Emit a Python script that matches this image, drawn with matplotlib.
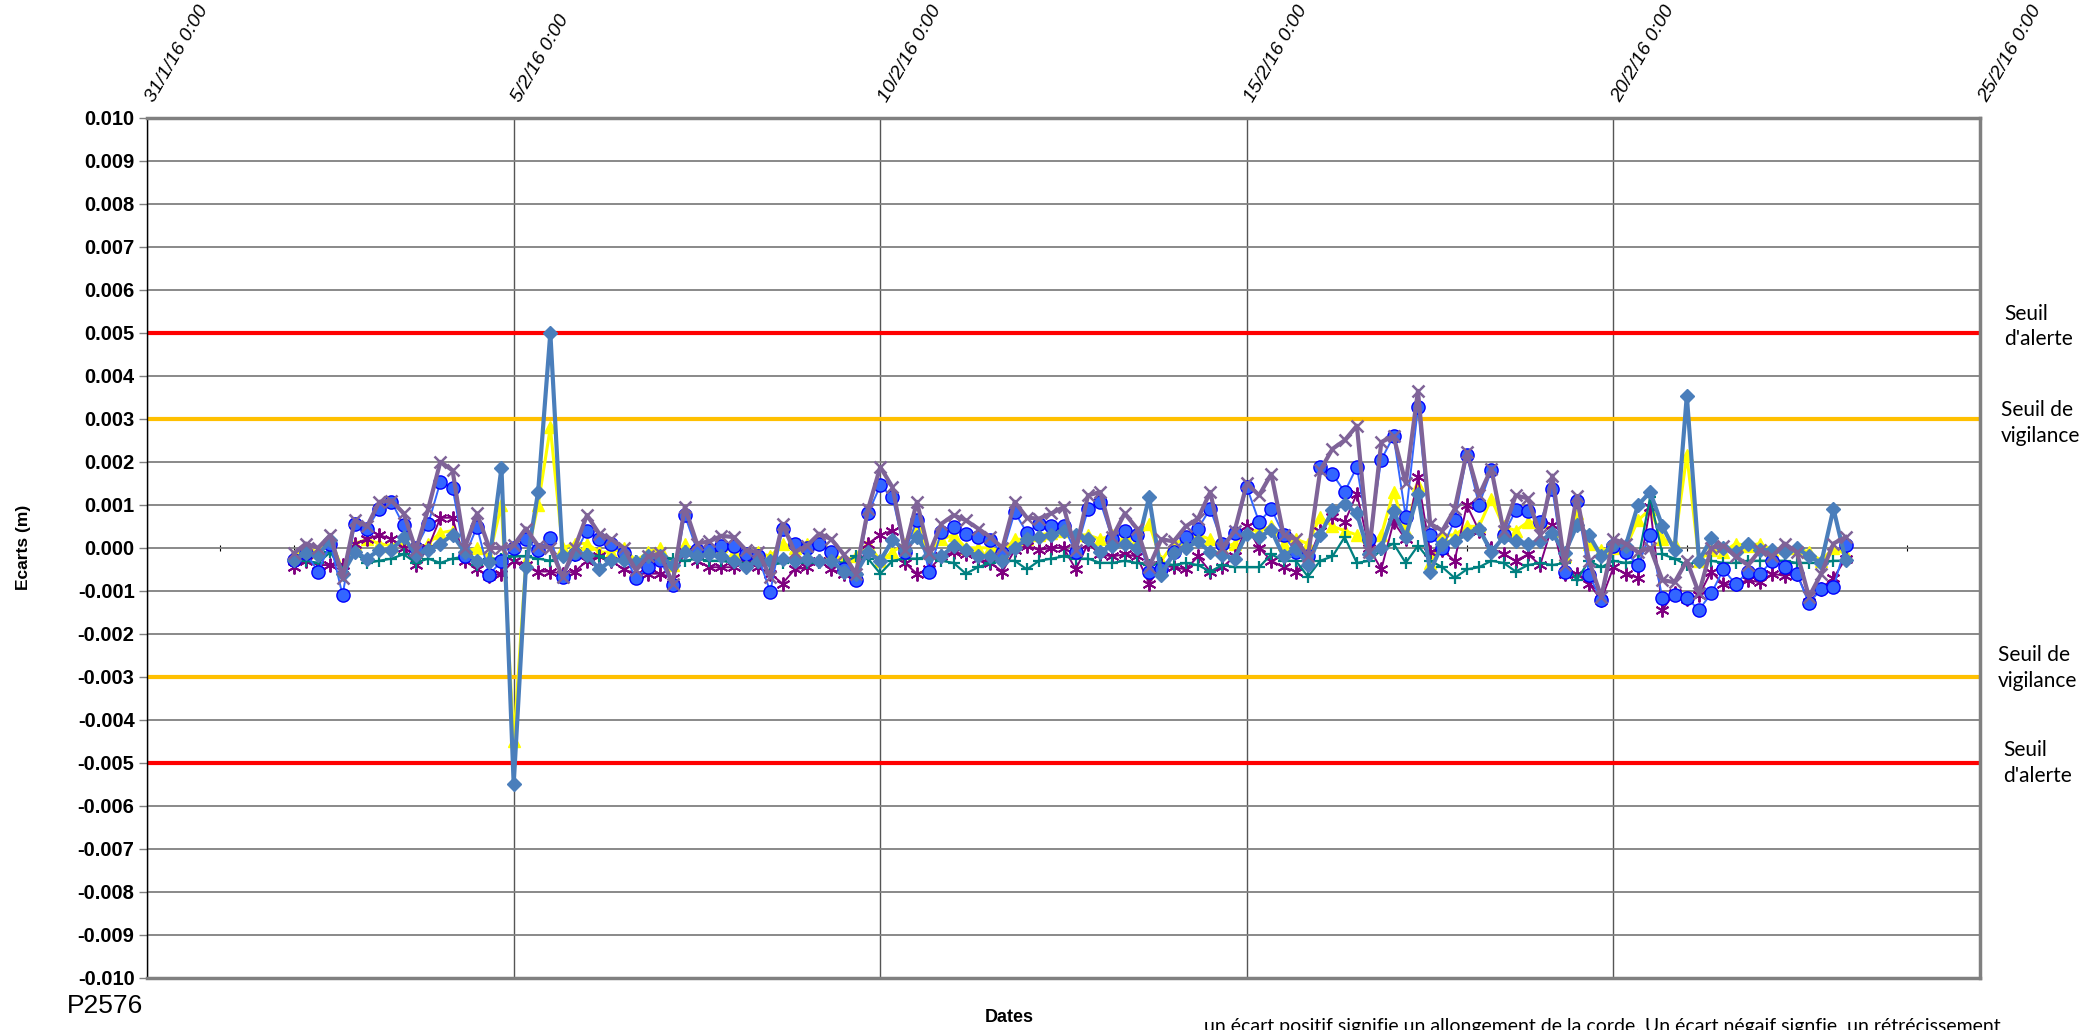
import numpy as np
import pandas as pd
import matplotlib
matplotlib.use('Agg')
import matplotlib.pyplot as plt
from matplotlib.ticker import MultipleLocator, FormatStrFormatter
from matplotlib.transforms import blended_transform_factory, ScaledTranslation

plt.rcParams['font.family'] = ['Liberation Sans', 'DejaVu Sans']

# mesures toutes les 4 h, du 2/2/16 0:00 au 23/2/16 4:00
dates = pd.date_range('2016-02-02 00:00', periods=128, freq='4h')

# écarts en mm (une ligne = une journée)
serie_losange = [
    -0.29, -0.13, -0.17, 0.18, -0.6, -0.1,
    -0.25, -0.05, -0.05, 0.25, -0.17, -0.05,
    0.1, 0.3, -0.1, -0.3, -0.33, 1.86,
    -5.5, -0.45, 1.3, 5.0, -0.2, -0.1,
    -0.17, -0.5, -0.29, -0.29, -0.33, -0.2,
    -0.2, -0.4, -0.1, -0.2, -0.15, -0.2,
    -0.3, -0.45, -0.3, -0.3, -0.25, -0.3,
    -0.25, -0.3, -0.3, -0.55, -0.6, -0.1,
    -0.3, 0.18, -0.05, 0.25, -0.2, -0.2,
    0.05, -0.05, -0.2, -0.2, -0.3, 0.0,
    0.2, 0.25, 0.3, 0.4, 0.3, 0.2,
    -0.1, 0.05, 0.1, 0.0, 1.18, -0.63,
    -0.13, 0.0, 0.15, -0.1, -0.17, -0.25,
    0.33, 0.25, 0.41, -0.2, 0.0, -0.4,
    0.3, 0.87, 1.03, 0.8, -0.15, 0.0,
    0.85, 0.25, 1.26, -0.55, 0.1, 0.15,
    0.33, 0.45, -0.1, 0.25, 0.15, 0.1,
    0.15, 0.35, -0.13, 0.52, 0.3, -0.2,
    0.1, 0.05, 0.99, 1.3, 0.5, -0.05,
    3.54, -0.3, 0.22, 0.0, -0.1, 0.1,
    -0.05, -0.05, -0.1, 0.0, -0.2, -0.35,
    0.91, -0.29]

serie_rond = [
    -0.29, -0.13, -0.55, 0.1, -1.1, 0.55,
    0.45, 0.9, 1.07, 0.52, 0.0, 0.55,
    1.53, 1.4, -0.2, 0.49, -0.63, -0.3,
    0.0, 0.2, -0.05, 0.22, -0.67, -0.15,
    0.4, 0.2, 0.1, -0.13, -0.7, -0.45,
    -0.29, -0.87, 0.76, -0.05, -0.05, 0.05,
    0.05, -0.15, -0.2, -1.02, 0.45, 0.1,
    0.0, 0.1, -0.1, -0.5, -0.75, 0.8,
    1.45, 1.18, -0.1, 0.64, -0.55, 0.37,
    0.49, 0.32, 0.25, 0.19, -0.13, 0.83,
    0.35, 0.56, 0.5, 0.5, -0.1, 0.9,
    1.07, 0.2, 0.4, 0.3, -0.55, -0.5,
    -0.1, 0.25, 0.45, 0.91, 0.1, 0.35,
    1.41, 0.6, 0.91, 0.3, -0.1, -0.2,
    1.88, 1.72, 1.3, 1.88, 0.2, 2.05,
    2.6, 0.72, 3.27, 0.3, 0.0, 0.64,
    2.15, 1.0, 1.8, 0.3, 0.87, 0.85,
    0.6, 1.37, -0.55, 1.1, -0.63, -1.21,
    0.05, -0.1, -0.4, 0.29, -1.17, -1.1,
    -1.17, -1.44, -1.06, -0.5, -0.85, -0.55,
    -0.6, -0.3, -0.45, -0.6, -1.29, -0.95,
    -0.92, 0.06]

serie_triangle = [
    -0.2, 0.0, -0.1, 0.2, -0.5, 0.1,
    0.2, 0.1, 0.05, 0.2, -0.1, 0.1,
    0.35, 0.4, -0.1, 0.0, -0.2, 1.0,
    -4.5, -0.3, 1.0, 2.8, 0.0, 0.1,
    0.1, -0.1, -0.1, 0.0, -0.3, -0.1,
    0.0, -0.4, 0.1, -0.1, 0.0, 0.05,
    -0.1, -0.3, -0.1, -0.2, 0.1, 0.0,
    0.1, 0.2, -0.1, -0.3, -0.2, 0.1,
    -0.3, -0.1, 0.1, 0.5, -0.1, 0.2,
    0.3, 0.0, 0.0, 0.0, -0.1, 0.2,
    0.2, 0.3, 0.35, 0.4, 0.3, 0.3,
    0.2, 0.3, 0.3, 0.2, 0.56, -0.3,
    0.1, 0.2, 0.3, 0.2, 0.0, 0.1,
    0.4, 0.4, 0.5, 0.1, 0.2, 0.1,
    0.72, 0.5, 0.4, 0.3, 0.0, 0.3,
    1.3, 0.4, 1.45, -0.36, 0.3, 0.3,
    0.5, 0.5, 1.14, 0.5, 0.4, 0.6,
    0.6, 0.4, -0.2, 0.8, 0.1, -0.05,
    0.0, 0.0, 0.64, 0.9, 0.2, 0.1,
    2.15, -0.3, -0.05, -0.1, 0.1, 0.05,
    0.1, -0.05, 0.0, 0.0, -0.1, -0.3,
    0.0, -0.15]

serie_etoile = [
    -0.45, -0.3, -0.4, -0.4, -0.4, 0.1,
    0.2, 0.3, 0.2, 0.0, -0.4, 0.0,
    0.7, 0.7, -0.3, -0.5, -0.65, -0.6,
    -0.3, -0.4, -0.55, -0.55, -0.6, -0.55,
    -0.3, -0.2, -0.3, -0.5, -0.6, -0.6,
    -0.6, -0.7, -0.1, -0.3, -0.45, -0.45,
    -0.45, -0.35, -0.45, -0.6, -0.83, -0.5,
    -0.45, -0.3, -0.5, -0.6, -0.65, 0.1,
    0.3, 0.4, -0.35, -0.6, -0.5, -0.2,
    -0.1, -0.15, -0.25, -0.35, -0.55, -0.05,
    0.05, -0.05, 0.0, 0.0, -0.5, 0.1,
    -0.15, -0.2, -0.15, -0.2, -0.83, -0.4,
    -0.45, -0.5, -0.2, -0.55, -0.45, -0.2,
    0.5, 0.0, -0.3, -0.45, -0.55, -0.3,
    0.4, 0.72, 0.6, 1.26, 0.0, -0.5,
    0.6, 0.2, 1.64, -0.1, -0.05, -0.3,
    0.99, 0.4, 0.0, -0.15, -0.3, -0.15,
    -0.4, 0.53, -0.6, -0.6, -0.83, -1.21,
    -0.45, -0.6, -0.7, 0.95, -1.44, -1.05,
    -1.2, -1.1, -0.55, -0.85, -0.85, -0.75,
    -0.8, -0.6, -0.65, -0.6, -1.25, -0.95,
    -0.7, -0.25]

serie_plus = [
    -0.3, -0.3, -0.35, -0.1, -0.55, -0.1,
    -0.35, -0.3, -0.25, -0.15, -0.35, -0.25,
    -0.35, -0.25, -0.2, -0.4, -0.25, -0.25,
    -0.2, -0.2, -0.25, -0.3, -0.2, -0.2,
    -0.15, -0.2, -0.3, -0.25, -0.3, -0.25,
    -0.2, -0.25, -0.3, -0.25, -0.3, -0.3,
    -0.35, -0.35, -0.35, -0.4, -0.35, -0.3,
    -0.35, -0.35, -0.3, -0.35, -0.2, -0.25,
    -0.6, -0.3, -0.25, -0.25, -0.2, -0.3,
    -0.35, -0.6, -0.45, -0.35, -0.3, -0.3,
    -0.5, -0.3, -0.25, -0.2, -0.25, -0.25,
    -0.35, -0.35, -0.3, -0.35, -0.4, -0.35,
    -0.4, -0.35, -0.4, -0.55, -0.4, -0.45,
    -0.45, -0.45, -0.15, -0.3, -0.3, -0.67,
    -0.3, -0.2, 0.25, -0.35, -0.3, -0.05,
    0.1, -0.35, 0.05, -0.3, -0.45, -0.7,
    -0.5, -0.45, -0.3, -0.35, -0.55, -0.4,
    -0.35, -0.4, -0.35, -0.75, -0.3, -0.45,
    -0.3, -0.35, -0.3, 1.18, -0.15, -0.25,
    -0.4, -0.3, -0.3, -0.35, -0.35, -0.3,
    -0.3, -0.3, -0.3, -0.35, -0.35, -0.35,
    -0.3, -0.3]

serie_croix = [
    -0.13, 0.1, 0.0, 0.3, -0.7, 0.64,
    0.5, 1.07, 1.1, 0.8, -0.05, 0.9,
    2.0, 1.8, 0.0, 0.8, 0.0, 0.0,
    0.06, 0.45, 0.05, 0.0, -0.67, 0.0,
    0.76, 0.33, 0.2, 0.0, -0.52, -0.2,
    -0.13, -0.83, 0.95, 0.1, 0.15, 0.28,
    0.25, -0.05, -0.1, -0.67, 0.56, -0.1,
    0.05, 0.33, 0.2, -0.15, -0.6, 0.9,
    1.88, 1.41, -0.05, 1.07, -0.13, 0.56,
    0.76, 0.64, 0.45, 0.25, 0.0, 1.07,
    0.7, 0.68, 0.8, 0.95, -0.05, 1.22,
    1.3, 0.25, 0.8, 0.45, -0.44, 0.2,
    0.15, 0.5, 0.68, 1.3, 0.0, 0.4,
    1.5, 1.22, 1.72, 0.3, 0.2, -0.2,
    1.8, 2.3, 2.5, 2.84, -0.1, 2.46,
    2.6, 1.5, 3.65, 0.56, 0.4, 0.9,
    2.22, 1.22, 1.84, 0.4, 1.22, 1.15,
    0.3, 1.68, -0.4, 1.2, -0.3, -1.14,
    0.2, 0.1, -0.1, 0.0, -0.75, -0.8,
    -0.3, -1.06, 0.0, 0.05, -0.2, -0.4,
    -0.05, -0.2, 0.1, -0.1, -1.14, -0.6,
    0.1, 0.25]

seuils = [0.005, 0.003, -0.003, -0.005]
seuil_couleurs = ['#FF0000', '#FFC000', '#FFC000', '#FF0000']
seuil_textes = ["Seuil\nd'alerte", "Seuil de\nvigilance", "Seuil de\nvigilance", "Seuil\nd'alerte"]

date_ticks = pd.to_datetime(['2016-01-31', '2016-02-05', '2016-02-10',
                             '2016-02-15', '2016-02-20', '2016-02-25'])
date_labels = ['31/1/16 0:00', '5/2/16 0:00', '10/2/16 0:00',
               '15/2/16 0:00', '20/2/16 0:00', '25/2/16 0:00']
petits_ticks = pd.to_datetime(['2016-02-01', '2016-02-02', '2016-02-07',
                               '2016-02-18', '2016-02-21', '2016-02-24'])

fig = plt.figure(figsize=(20.98, 10.30), dpi=100)
ax = fig.add_axes([0.0701, 0.0505, 0.8737, 0.8352])

ax.set_xlim(pd.Timestamp('2016-01-31'), pd.Timestamp('2016-02-25'))
ax.set_ylim(-0.010, 0.010)

# grille
ax.yaxis.set_major_locator(MultipleLocator(0.001))
ax.yaxis.set_major_formatter(FormatStrFormatter('%.3f'))
ax.grid(axis='y', color='#808080', linewidth=1.3, zorder=0)
ax.grid(axis='x', color='#555555', linewidth=1.0, zorder=0)
ax.set_axisbelow(True)

# seuils
for s, c in zip(seuils, seuil_couleurs):
    ax.axhline(s, color=c, linewidth=3, zorder=2)

m = 1e-3
ax.plot(dates, np.array(serie_triangle) * m, color='#FFFF00', lw=2.2, marker='^',
        ms=8, mec='#FFFF00', zorder=3)
ax.plot(dates, np.array(serie_etoile) * m, color='#800080', lw=1.4, marker=(6, 2, 0),
        ms=10, mew=1.4, zorder=4)
ax.plot(dates, np.array(serie_plus) * m, color='#008080', lw=1.6, marker='+',
        ms=9, mew=1.6, zorder=4)
ax.plot(dates, np.array(serie_rond) * m, color='#3366FF', lw=1.4, marker='o',
        ms=9.5, mfc='#3366FF', mec='#0000FF', zorder=5)
ax.plot(dates, np.array(serie_losange) * m, color='#4A7EBB', lw=3, marker='D',
        ms=7, zorder=6)
ax.plot(dates, np.array(serie_croix) * m, color='#7F6398', lw=3, marker='x',
        ms=9, mew=1.8, zorder=7)

# axe des dates en haut
ax.xaxis.set_ticks_position('top')
ax.set_xticks(date_ticks)
ax.set_xticklabels(date_labels, rotation=60, ha='left', va='bottom',
                   rotation_mode='anchor', fontstyle='italic', fontsize=14)
ax.tick_params(axis='x', length=0, pad=9)
decalage = ScaledTranslation(10 / 100, 0, fig.dpi_scale_trans)
for lab in ax.get_xticklabels():
    lab.set_transform(lab.get_transform() + decalage)
ax.tick_params(axis='y', length=6, width=1, color='#808080', pad=3)
for lab in ax.get_yticklabels():
    lab.set_fontweight('bold')
    lab.set_fontsize(14.5)

for side in ['top', 'right', 'bottom']:
    ax.spines[side].set_color('#808080')
    ax.spines[side].set_linewidth(2.5)
ax.spines['left'].set_color('black')
ax.spines['left'].set_linewidth(1)

# petits traits sur l'axe 0
sec = ax.secondary_xaxis(0.5)
sec.set_xticks(petits_ticks)
sec.tick_params(length=4, direction='inout', labelbottom=False, labeltop=False, color='black')
for sp in sec.spines.values():
    sp.set_visible(False)

# étiquettes des seuils
tr = blended_transform_factory(ax.transAxes, ax.transData)
seuil_x = [1.0131, 1.0115, 1.0098, 1.0125]
seuil_y = [0.00515, 0.0029, -0.0028, -0.005]
for x, y, t in zip(seuil_x, seuil_y, seuil_textes):
    ax.text(x, y, t, transform=tr, ha='left', va='center', fontsize=15,
            family='Lato', linespacing=1.35, clip_on=False)

fig.text(0.0114, 0.469, 'Ecarts (m)', rotation=90, ha='center', va='center',
         fontsize=12.5, fontweight='bold')
fig.text(0.481, 0.0126, 'Dates', ha='center', va='center', fontsize=13, fontweight='bold')
fig.text(0.032, 0.0233, 'P2576', ha='left', va='center', fontsize=19)
# note de bas de page, coupée par le bord comme sur l'original
fig.text(0.574, 0.0117, "un écart positif signifie un allongement de la corde. "
         "Un écart négaif signfie  un rétrécissement",
         ha='left', va='top', fontsize=14, family='Lato')

fig.savefig('out.png', dpi=100)
